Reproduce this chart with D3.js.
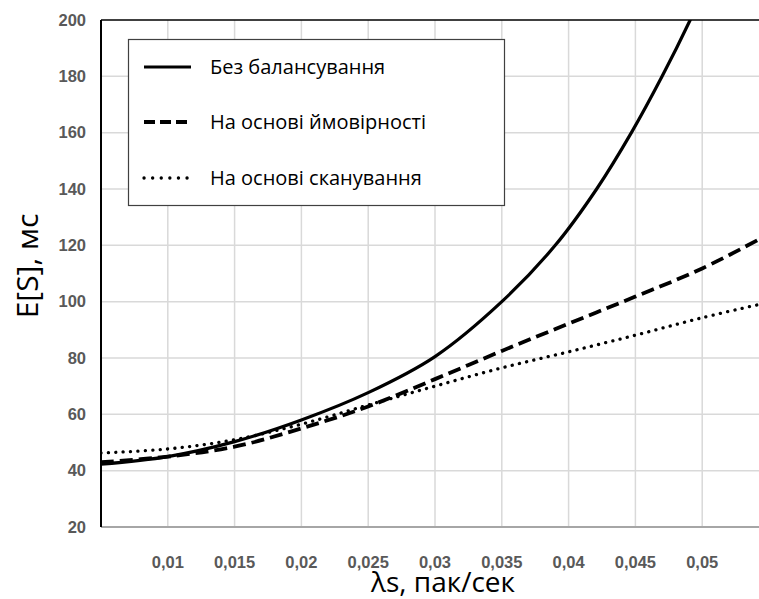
<!DOCTYPE html>
<html>
<head>
<meta charset="utf-8">
<script src="https://cdn.jsdelivr.net/npm/d3@7"></script>
<style>
  body { margin: 0; background: #fff; }
  svg { display: block; }
</style>
</head>
<body>
<div id="chart"></div>
<script>
// values
const noBalanceX = [0.005, 0.01, 0.015, 0.02, 0.025, 0.03, 0.035, 0.039, 0.0421, 0.0447, 0.047, 0.0491, 0.051];
const noBalance  = [42.3, 45.0, 50.3, 58.0, 67.7, 80.5, 100.0, 120.0, 140.0, 160.0, 180.0, 200.0, 220.0];

const lambdas   = [0.005, 0.01, 0.015, 0.02, 0.025, 0.03, 0.035, 0.04, 0.045, 0.05, 0.055];
const probBased = [43.0, 45.0, 48.5, 55.0, 62.8, 72.5, 82.5, 92.2, 101.8, 111.8, 124.0];
const scanBased = [46.3, 47.7, 51.0, 56.5, 63.3, 70.0, 76.5, 82.2, 88.1, 94.3, 99.8];

const xTicks = [0.01, 0.015, 0.02, 0.025, 0.03, 0.035, 0.04, 0.045, 0.05, 0.055];
const yTicks = [20, 40, 60, 80, 100, 120, 140, 160, 180, 200];

const seriesNames = ["Без балансування", "На основі ймовірності", "На основі сканування"];

const width = 759, height = 599;
const margin = { left: 101, top: 20, right: -10, bottom: 72 };

const svg = d3.select("#chart").append("svg")
    .attr("width", width)
    .attr("height", height);

const x = d3.scaleLinear()
    .domain([0.005, 0.055])
    .range([margin.left, width - margin.right]);
const y = d3.scaleLinear()
    .domain([20, 200])
    .range([height - margin.bottom, margin.top]);

// clip for the plot area
svg.append("clipPath").attr("id", "plot-clip")
    .append("rect")
    .attr("x", margin.left)
    .attr("y", margin.top)
    .attr("width", width - margin.right - margin.left)
    .attr("height", height - margin.bottom - margin.top);

// grid
const grid = svg.append("g");
grid.selectAll(".vgrid")
    .data(xTicks)
    .join("line")
    .attr("x1", d => x(d)).attr("x2", d => x(d))
    .attr("y1", y(200)).attr("y2", y(20))
    .attr("stroke", "#d9d9d9")
    .attr("stroke-width", 1.5);
grid.selectAll(".hgrid")
    .data(yTicks.slice(1, -1))
    .join("line")
    .attr("x1", x(0.005)).attr("x2", x(0.055))
    .attr("y1", d => y(d)).attr("y2", d => y(d))
    .attr("stroke", "#d9d9d9")
    .attr("stroke-width", 1.5);

// frame
svg.append("line")
    .attr("x1", x(0.005)).attr("x2", x(0.055))
    .attr("y1", y(200)).attr("y2", y(200))
    .attr("stroke", "#000").attr("stroke-width", 1.5);
svg.append("line")
    .attr("x1", x(0.005)).attr("x2", x(0.055))
    .attr("y1", y(20)).attr("y2", y(20))
    .attr("stroke", "#a6a6a6").attr("stroke-width", 2);
svg.append("line")
    .attr("x1", x(0.005)).attr("x2", x(0.005))
    .attr("y1", y(200)).attr("y2", y(20))
    .attr("stroke", "#000").attr("stroke-width", 2);

// tick labels
svg.append("g").selectAll("text")
    .data(yTicks)
    .join("text")
    .attr("x", 86)
    .attr("y", d => y(d))
    .attr("dy", "0.35em")
    .attr("text-anchor", "end")
    .attr("font-family", "Liberation Sans, Arial, sans-serif")
    .attr("font-weight", "bold")
    .attr("font-size", 16.5)
    .attr("fill", "#595959")
    .text(d => d);

svg.append("g").selectAll("text")
    .data(xTicks.slice(0, -1))
    .join("text")
    .attr("x", d => x(d))
    .attr("y", 568)
    .attr("text-anchor", "middle")
    .attr("font-family", "Liberation Sans, Arial, sans-serif")
    .attr("font-weight", "bold")
    .attr("font-size", 16.5)
    .attr("fill", "#595959")
    .text(d => d3.format("")(d).replace(".", ","));

// axis titles
svg.append("text")
    .attr("transform", "translate(38,266) rotate(-90)")
    .attr("text-anchor", "middle")
    .attr("font-family", "Open Sans, sans-serif")
    .attr("font-size", 30)
    .attr("fill", "#000")
    .text("E[S], мс");

svg.append("text")
    .attr("x", 443)
    .attr("y", 592)
    .attr("text-anchor", "middle")
    .attr("font-family", "Open Sans, sans-serif")
    .attr("font-size", 28)
    .attr("fill", "#000")
    .text("λs, пак/сек");

// lines
const styles = [
    { width: 3.2, dash: null, cap: "butt" },
    { width: 3.8, dash: "13,6", cap: "butt" },
    { width: 3.3, dash: "0.1,7.3", cap: "round" }
];
const seriesData = [
    noBalanceX.map((l, j) => [l, noBalance[j]]),
    lambdas.map((l, j) => [l, probBased[j]]),
    lambdas.map((l, j) => [l, scanBased[j]])
];

const line = d3.line()
    .x(d => x(d[0]))
    .y(d => y(d[1]))
    .curve(d3.curveCatmullRom.alpha(0.5));

const plot = svg.append("g").attr("clip-path", "url(#plot-clip)");
seriesData.forEach((pts, i) => {
    plot.append("path")
        .datum(pts)
        .attr("d", line)
        .attr("fill", "none")
        .attr("stroke", "#000")
        .attr("stroke-width", styles[i].width)
        .attr("stroke-dasharray", styles[i].dash)
        .attr("stroke-linecap", styles[i].cap);
});

// legend
const legend = svg.append("g");
legend.append("rect")
    .attr("x", 128.5).attr("y", 39.5)
    .attr("width", 376).attr("height", 166)
    .attr("fill", "#fff")
    .attr("stroke", "#404040")
    .attr("stroke-width", 1.2);

const legendY = [67, 122, 178];
const legendDash = [null, "11,5", "0.1,8.5"];
seriesNames.forEach((name, i) => {
    legend.append("line")
        .attr("x1", 144).attr("x2", 191)
        .attr("y1", legendY[i]).attr("y2", legendY[i])
        .attr("stroke", "#000")
        .attr("stroke-width", styles[i].width)
        .attr("stroke-dasharray", legendDash[i])
        .attr("stroke-linecap", styles[i].cap);
    legend.append("text")
        .attr("x", 210)
        .attr("y", legendY[i])
        .attr("dy", "0.35em")
        .attr("font-family", "Open Sans, sans-serif")
        .attr("font-size", 20)
        .attr("fill", "#000")
        .text(name);
});
</script>
</body>
</html>
